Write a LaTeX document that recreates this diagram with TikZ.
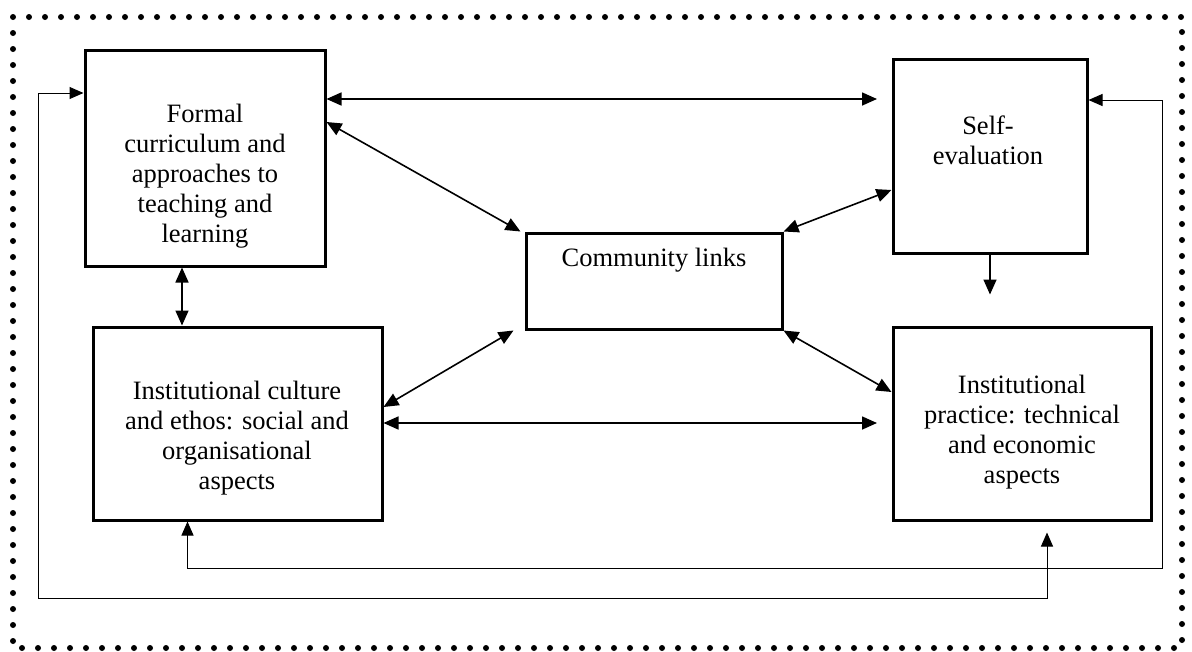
\documentclass[tikz,border=0pt]{standalone}
\usepackage{fontspec}
\setmainfont{Liberation Serif}
\usetikzlibrary{arrows.meta}

\begin{document}
\begin{tikzpicture}[x=1pt, y=-1pt,
    box/.style={draw, line width=3pt, inner sep=0pt},
    txt/.style={align=center, inner sep=0pt, font=\fontsize{26.5}{30}\selectfont},
    link/.style={line width=1.6pt, {Triangle[length=15pt,width=13pt]}-{Triangle[length=15pt,width=13pt]}},
    oneway/.style={line width=1.6pt, -{Triangle[length=15pt,width=13pt]}},
    feedback/.style={line width=1pt, {Triangle[length=14pt,width=12pt]}-{Triangle[length=14pt,width=12pt]}}]
  \path[use as bounding box] (0,0) rectangle (1192,651);

  % dotted frame
  \draw[line width=6pt, line cap=round, dash pattern=on 0pt off 16pt] (13,17) rectangle (1182,648);

  % boxes
  \node[box, minimum width=240pt, minimum height=216pt] (F) at (205,158) {};
  \node[txt] (Ft) at (205,176) {Formal\\curriculum and\\approaches to\\teaching and\\learning};

  \node[box, minimum width=194pt, minimum height=194pt] (S) at (990,156) {};
  \node[txt] (St) at (988,140) {Self-\\evaluation};

  \node[box, minimum width=256pt, minimum height=96pt] (C) at (654,281) {};
  \node[txt] (Ct) at (654,260) {Community links};

  \node[box, minimum width=289pt, minimum height=193pt] (U) at (237.5,423.5) {};
  \node[txt] (Ut) at (237,438) {Institutional culture\\and ethos: social and\\organisational\\aspects};

  \node[box, minimum width=258pt, minimum height=193pt] (P) at (1022,423.5) {};
  \node[txt] (Pt) at (1022,432) {Institutional\\practice: technical\\and economic\\aspects};

  % arrows
  \coordinate (fs) at (877,99);
  \draw[link] (F.east |- fs) -- (fs);
  \draw[link] (F.east |- 0,122) -- ([xshift=-4pt]C.north west);
  \draw[link] (C.north east) -- (S.west |- 0,190);
  \draw[link] ([xshift=-11pt]C.south west) -- (U.east |- 0,407);
  \draw[link] (C.south east) -- (P.west |- 0,392);
  \coordinate (up) at (877,423);
  \draw[link] (U.east |- up) -- (up);
  \draw[link] ([xshift=-23pt]F.south) -- ([xshift=-23pt]F.south |- U.north);
  \draw[oneway] (S.south) -- ++(0,40);

  % feedback
  \coordinate (outer) at (38,598);
  \draw[feedback] ([xshift=25pt,yshift=-11pt]P.south) |- (outer) |- (F.west |- 0,93);
  \coordinate (inner) at (1162,568);
  \draw[feedback] ([xshift=-50pt]U.south) |- (inner) |- (S.east |- 0,100);
\end{tikzpicture}
\end{document}
